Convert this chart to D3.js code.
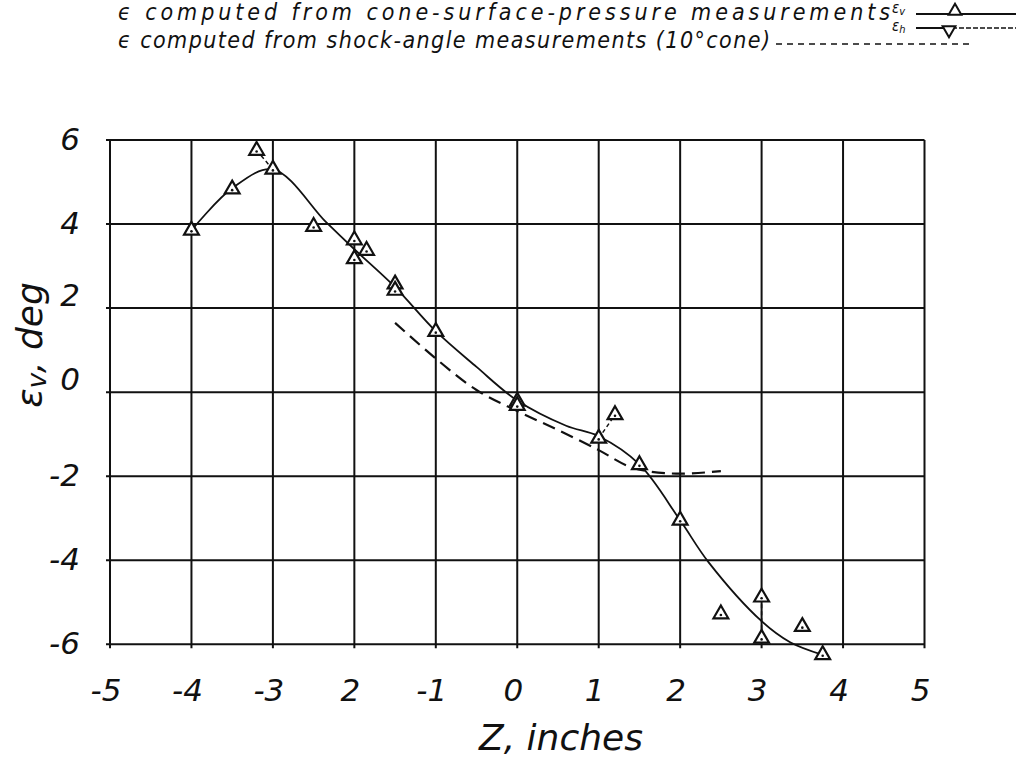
<!DOCTYPE html>
<html>
<head>
<meta charset="utf-8">
<script src="https://cdn.jsdelivr.net/npm/d3@7"></script>
<style>
  html, body { margin: 0; padding: 0; background: #fff; }
  svg { display: block; }
  .hand { font-family: "DejaVu Sans", sans-serif; font-weight: 200; font-style: italic; fill: #111; }
  .legend { font-family: "Liberation Sans Narrow", "DejaVu Sans Condensed", sans-serif; font-style: italic; fill: #111; }
</style>
</head>
<body>
<svg id="chart" width="1016" height="759"></svg>
<script>
// Axis ranges and tick labels
const xTicks = [-5, -4, -3, -2, -1, 0, 1, 2, 3, 4, 5];
const xTickLabels = ["-5", "-4", "-3", "2", "-1", "0", "1", "2", "3", "4", "5"];
const yTicks = [6, 4, 2, 0, -2, -4, -6];
const yTickLabels = ["6", "4", "2", "0", "-2", "-4", "-6"];

// Measured flow angle from cone-surface pressures (Z, inches ; eps, deg)
const pointZ   = [-4.0, -3.5, -3.2, -3.0, -2.5, -2.0, -1.85, -2.0, -1.5, -1.5, -1.0, 0.0, 0.0, 1.0, 1.2, 1.5, 2.0, 2.5, 3.0, 3.0, 3.5, 3.75];
const pointEps = [3.85, 4.83, 5.75, 5.3, 3.94, 3.62, 3.37, 3.17, 2.57, 2.42, 1.44, -0.22, -0.32, -1.1, -0.54, -1.73, -3.05, -5.28, -4.88, -5.86, -5.58, -6.25];

// Paired readings joined by short dashed ties
const tiePairs = [[2, 3], [13, 14], [18, 19]];

// Faired curve through the pressure data
const fairZ   = [-4.0, -3.5, -3.0, -2.35, -2.0, -1.5, -1.0, -0.5, 0.0, 0.6, 1.0, 1.5, 2.0, 2.35, 3.0, 3.35, 3.75];
const fairEps = [3.85, 4.85, 5.3, 4.05, 3.4, 2.5, 1.45, 0.6, -0.2, -0.8, -1.05, -1.72, -3.05, -4.05, -5.45, -5.95, -6.25];

// Flow angle from shock-angle measurements (10° cone)
const shockZ   = [-1.5, -1.0, -0.5, 0.0, 0.5, 1.0, 1.35, 1.6, 2.0, 2.5];
const shockEps = [1.65, 0.8, 0.05, -0.45, -0.9, -1.38, -1.75, -1.88, -1.94, -1.88];

const svg = d3.select("#chart");

const x = d3.scaleLinear().domain([-5, 5]).range([110, 924.5]);
const y = d3.scaleLinear().domain([-6, 6]).range([644.3, 140]);

// Grid
const grid = svg.append("g").attr("stroke", "#111").attr("stroke-width", 2);
grid.selectAll("line.v").data(xTicks).join("line")
  .attr("class", "v")
  .attr("x1", d => x(d)).attr("x2", d => x(d))
  .attr("y1", y(6)).attr("y2", y(-6) + 4);
grid.selectAll("line.h").data(yTicks).join("line")
  .attr("class", "h")
  .attr("y1", d => y(d)).attr("y2", d => y(d))
  .attr("x1", x(-5) - 4).attr("x2", x(5));

// Tick labels
svg.append("g").selectAll("text").data(xTicks).join("text")
  .attr("class", "hand")
  .attr("x", d => x(d) - 4)
  .attr("y", 701)
  .attr("text-anchor", "middle")
  .attr("font-size", 31)
  .text((d, i) => xTickLabels[i]);

svg.append("g").selectAll("text").data(yTicks).join("text")
  .attr("class", "hand")
  .attr("x", 80)
  .attr("y", d => y(d) + (d === 2 || d === 0 ? -2 : 10))
  .attr("text-anchor", "end")
  .attr("font-size", 31)
  .text((d, i) => yTickLabels[i]);

// Axis titles
svg.append("text")
  .attr("class", "hand")
  .attr("x", 561).attr("y", 750)
  .attr("text-anchor", "middle")
  .attr("font-size", 36)
  .text("Z, inches");

const yTitle = svg.append("text")
  .attr("class", "hand")
  .attr("transform", "translate(42,345) rotate(-90)")
  .attr("text-anchor", "middle")
  .attr("font-size", 36);
yTitle.append("tspan").text("ε");
yTitle.append("tspan").attr("font-size", 26).attr("dy", 4).text("v");
yTitle.append("tspan").attr("dy", -4).text(", deg");

// Shock-angle curve (dashed)
const line = d3.line().x(d => x(d[0])).y(d => y(d[1])).curve(d3.curveCatmullRom.alpha(0.5));
svg.append("path")
  .datum(d3.zip(shockZ, shockEps))
  .attr("d", line)
  .attr("fill", "none").attr("stroke", "#111").attr("stroke-width", 2.2)
  .attr("stroke-dasharray", "13,7");

// Faired pressure curve
svg.append("path")
  .datum(d3.zip(fairZ, fairEps))
  .attr("d", line)
  .attr("fill", "none").attr("stroke", "#111").attr("stroke-width", 1.8);

// Dashed ties between paired readings
svg.append("g").selectAll("line").data(tiePairs).join("line")
  .attr("x1", d => x(pointZ[d[0]])).attr("y1", d => y(pointEps[d[0]]))
  .attr("x2", d => x(pointZ[d[1]])).attr("y2", d => y(pointEps[d[1]]))
  .attr("stroke", "#111").attr("stroke-width", 1.5).attr("stroke-dasharray", "4,3");

// Triangle markers
const tri = d3.symbol().type(d3.symbolTriangle).size(95);
const marks = svg.append("g").selectAll("g").data(d3.zip(pointZ, pointEps)).join("g")
  .attr("transform", d => `translate(${x(d[0])},${y(d[1])})`);
marks.append("path").attr("d", tri)
  .attr("fill", "#fff").attr("stroke", "#111").attr("stroke-width", 2.2);
marks.append("circle").attr("r", 1.3).attr("cy", 1).attr("fill", "#111");

// Legend
const lg = svg.append("g");
lg.append("text").attr("class", "legend")
  .attr("x", 118).attr("y", 20).attr("font-size", 23)
  .attr("textLength", 772).attr("lengthAdjust", "spacing")
  .text("ϵ computed from  cone-surface-pressure  measurements");
lg.append("text").attr("class", "legend")
  .attr("x", 118).attr("y", 48).attr("font-size", 23)
  .attr("textLength", 652).attr("lengthAdjust", "spacing")
  .text("ϵ computed from  shock-angle  measurements  (10°cone)");

const lgSym = lg.append("g").attr("class", "legend").attr("font-size", 15);
const ev = lgSym.append("text").attr("x", 892).attr("y", 13);
ev.append("tspan").text("ε");
ev.append("tspan").attr("font-size", 11).attr("dy", 2).text("v");
const eh = lgSym.append("text").attr("x", 892).attr("y", 31);
eh.append("tspan").text("ε");
eh.append("tspan").attr("font-size", 11).attr("dy", 2).text("h");

lg.append("line").attr("x1", 916).attr("x2", 1016).attr("y1", 14).attr("y2", 14)
  .attr("stroke", "#111").attr("stroke-width", 2);
lg.append("path").attr("d", d3.symbol().type(d3.symbolTriangle).size(70))
  .attr("transform", "translate(955,11)")
  .attr("fill", "#fff").attr("stroke", "#111").attr("stroke-width", 2);

lg.append("line").attr("x1", 916).attr("x2", 946).attr("y1", 28).attr("y2", 28)
  .attr("stroke", "#111").attr("stroke-width", 2);
lg.append("line").attr("x1", 952).attr("x2", 1016).attr("y1", 28).attr("y2", 28)
  .attr("stroke", "#111").attr("stroke-width", 1.5).attr("stroke-dasharray", "5,2");
lg.append("path").attr("d", d3.symbol().type(d3.symbolTriangle).size(70))
  .attr("transform", "translate(949,30) rotate(180)")
  .attr("fill", "#fff").attr("stroke", "#111").attr("stroke-width", 2);

lg.append("line").attr("x1", 776).attr("x2", 972).attr("y1", 44).attr("y2", 44)
  .attr("stroke", "#111").attr("stroke-width", 1.5).attr("stroke-dasharray", "6,5");
</script>
</body>
</html>
